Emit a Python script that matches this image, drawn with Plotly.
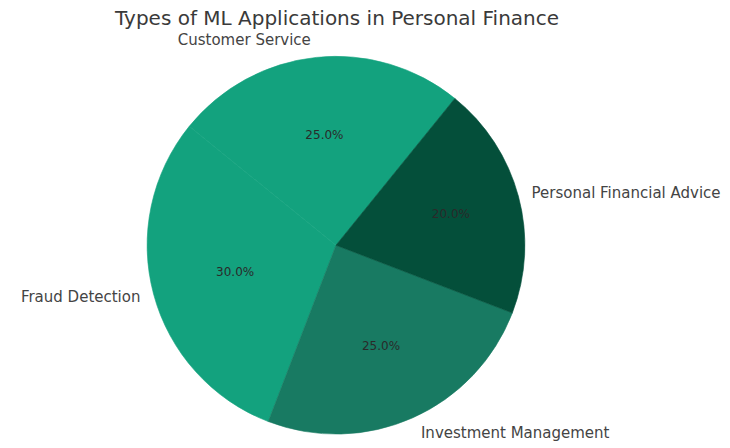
import plotly.graph_objects as go

labels = ["Customer Service", "Fraud Detection", "Investment Management", "Personal Financial Advice"]
values = [25, 30, 25, 20]
colors = ["#13a27e", "#13a27e", "#187a62", "#044f3a"]

W, H = 730, 448
CX, CY, R = 336, 248, 191
R_LBL = 200


def dom(r):
    return dict(x=[(CX - r) / W, (CX + r) / W], y=[max(0, (H - CY - r) / H), (H - CY + r) / H])


fig = go.Figure()
fig.add_trace(go.Pie(
    labels=labels, values=values, sort=False, direction="counterclockwise", rotation=-51,
    domain=dom(R),
    marker=dict(colors=colors, line=dict(width=0.6, color=colors)),
    texttemplate="%{percent:.1%}", textposition="inside", insidetextorientation="horizontal",
    textfont=dict(family="DejaVu Sans", size=12, color="#2a2a2a"),
    showlegend=False, hoverinfo="label+percent",
))
fig.add_trace(go.Pie(
    labels=labels, values=values, sort=False, direction="counterclockwise", rotation=-51,
    domain=dom(R_LBL),
    marker=dict(colors=["rgba(0,0,0,0)"] * 4, line=dict(width=0)),
    textinfo="label", textposition="outside",
    textfont=dict(family="DejaVu Sans", size=15, color="#444444"),
    showlegend=False, hoverinfo="skip",
))
fig.update_layout(
    width=W, height=H,
    margin=dict(l=0, r=0, t=0, b=0),
    paper_bgcolor="white", plot_bgcolor="white",
    title=dict(text="Types of ML Applications in Personal Finance", x=337 / W, xanchor="center",
               y=0.96, yanchor="middle",
               font=dict(family="DejaVu Sans", size=20, color="#3a3a3a")),
)
fig.write_html("out.html")
